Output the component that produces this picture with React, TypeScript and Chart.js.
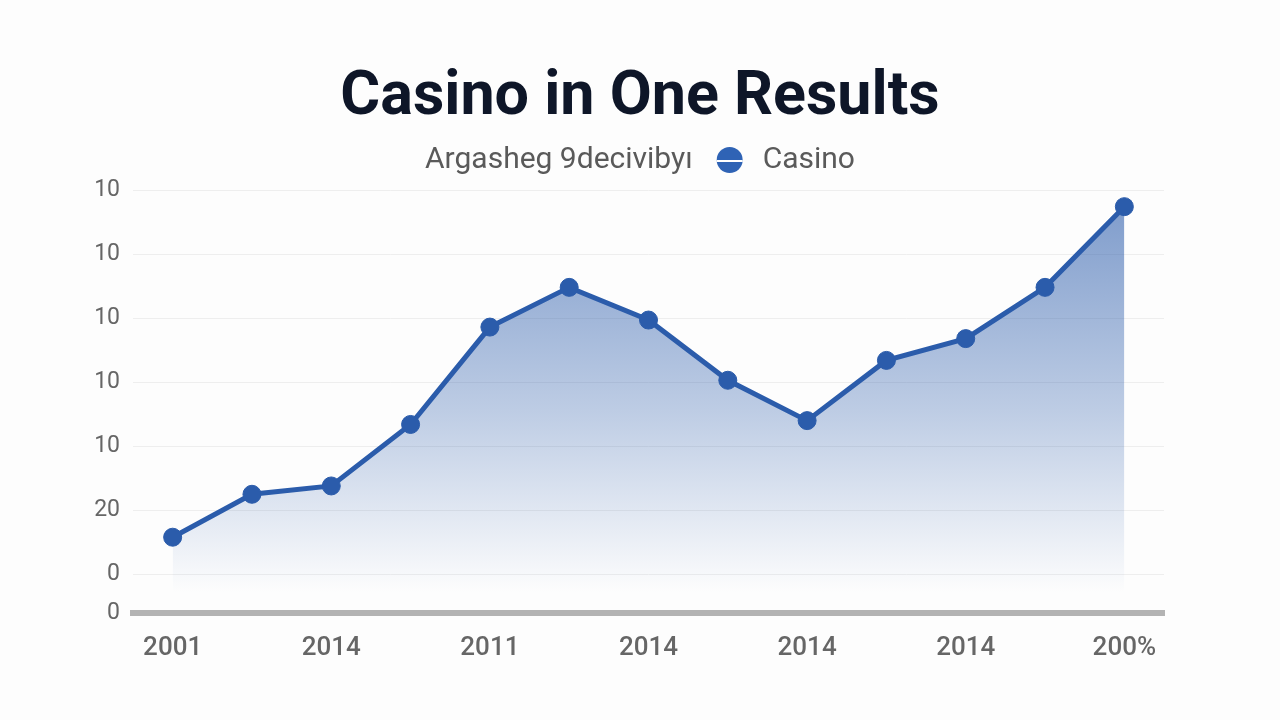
import React, { useEffect, useRef } from "react";
import { Chart, registerables } from "chart.js";

Chart.register(...registerables);

const TITLE = "Casino in One Results";
const LEGEND_PREFIX = "Argasheg 9decivibyı";
const SERIES_NAME = "Casino";

const categories = ["2001", "", "2014", "", "2011", "", "2014", "", "2014", "", "2014", "", "200%"];
const casinoValues = [5.8, 12.5, 13.8, 23.4, 38.6, 44.8, 39.7, 30.3, 24.0, 33.4, 36.8, 44.8, 57.4];
const yTickValues = [-6, 0, 10, 20, 30, 40, 50, 60];
const yTickLabels = ["0", "0", "20", "10", "10", "10", "10", "10"];

const LINE_COLOR = "#2b5cab";
const FONT = "Roboto, 'Noto Sans', sans-serif";

const headerPlugin = {
  id: "header",
  beforeDraw(chart: any) {
    const ctx = chart.ctx;
    ctx.save();
    ctx.fillStyle = "#fdfdfd";
    ctx.fillRect(0, 0, chart.width, chart.height);
    ctx.restore();
  },
  afterDraw(chart: any) {
    const ctx = chart.ctx;
    ctx.save();
    ctx.textBaseline = "middle";
    ctx.textAlign = "center";
    ctx.fillStyle = "#0e1628";
    ctx.font = `700 61px ${FONT}`;
    ctx.fillText(TITLE, 640, 99);

    ctx.font = `400 30px ${FONT}`;
    ctx.textAlign = "left";
    const w1 = ctx.measureText(LEGEND_PREFIX).width;
    const w2 = ctx.measureText(SERIES_NAME).width;
    const gap1 = 24, markerR = 13, gap2 = 20;
    const total = w1 + gap1 + markerR * 2 + gap2 + w2;
    let x = 640 - total / 2;
    const y = 160;
    ctx.fillStyle = "#5a5a5a";
    ctx.fillText(LEGEND_PREFIX, x, y);
    x += w1 + gap1;
    ctx.beginPath();
    ctx.arc(x + markerR, y, markerR, 0, Math.PI * 2);
    ctx.fillStyle = "#2f63b5";
    ctx.fill();
    ctx.strokeStyle = "#ffffff";
    ctx.lineWidth = 2;
    ctx.beginPath();
    ctx.moveTo(x, y + 1);
    ctx.lineTo(x + markerR * 2, y + 1);
    ctx.stroke();
    x += markerR * 2 + gap2;
    ctx.fillStyle = "#5a5a5a";
    ctx.fillText(SERIES_NAME, x, y);
    ctx.restore();
  },
};

export default function App() {
  const ref = useRef<HTMLCanvasElement | null>(null);
  useEffect(() => {
    if (!ref.current) return;
    const chart = new Chart(ref.current, {
      type: "line",
      data: {
        labels: categories,
        datasets: [
          {
            label: SERIES_NAME,
            data: casinoValues,
            borderColor: LINE_COLOR,
            borderWidth: 5,
            pointRadius: 9,
            pointBackgroundColor: LINE_COLOR,
            pointBorderColor: LINE_COLOR,
            pointBorderWidth: 1,
            tension: 0,
            fill: "start",
            backgroundColor: (context: any) => {
              const area = context.chart.chartArea;
              if (!area) return "rgba(43,92,171,0.3)";
              const g = context.chart.ctx.createLinearGradient(0, area.top, 0, area.bottom - 20);
              g.addColorStop(0, "rgba(43,92,171,0.62)");
              g.addColorStop(0.55, "rgba(43,92,171,0.3)");
              g.addColorStop(1, "rgba(43,92,171,0.0)");
              return g;
            },
          },
        ],
      },
      options: {
        animation: false,
        responsive: false,
        layout: { padding: { left: 93, right: 116, top: 190, bottom: 36 } },
        plugins: {
          legend: { display: false },
          title: { display: false },
          tooltip: { enabled: false },
        },
        scales: {
          x: {
            type: "category",
            offset: true,
            grid: { display: false, drawTicks: false },
            border: { display: true, color: "#b3b3b3", width: 6 },
            ticks: {
              autoSkip: false,
              maxRotation: 0,
              padding: 20,
              color: "#666666",
              font: { family: FONT, size: 26, weight: "500" },
            },
          },
          y: {
            type: "linear",
            min: -6,
            max: 60,
            afterBuildTicks: (scale: any) => {
              scale.ticks = yTickValues.map((v) => ({ value: v }));
            },
            afterFit: (scale: any) => {
              scale.width = 40;
            },
            grid: {
              color: (c: any) => (c.tick && c.tick.value === -6 ? "rgba(0,0,0,0)" : "#eeeeee"),
              lineWidth: 1,
              drawTicks: false,
            },
            border: { display: false },
            ticks: {
              padding: 13,
              color: "#666666",
              font: { family: FONT, size: 23 },
              callback: (value: any) => {
                const i = yTickValues.indexOf(Number(value));
                return i >= 0 ? yTickLabels[i] : "";
              },
            },
          },
        },
      },
      plugins: [headerPlugin],
    });
    return () => chart.destroy();
  }, []);
  return (
    <div style={{ position: "fixed", left: 0, top: 0, width: 1280, height: 720, background: "#fdfdfd" }}>
      <canvas ref={ref} width={1280} height={720} style={{ width: 1280, height: 720 }} />
    </div>
  );
}
